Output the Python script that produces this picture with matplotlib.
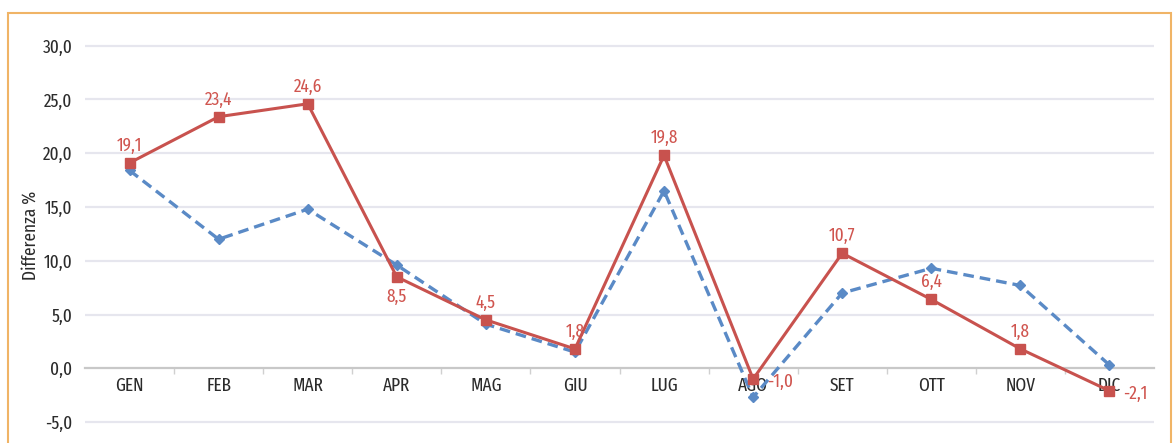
import numpy as np
import matplotlib.pyplot as plt
from matplotlib.patches import Rectangle

plt.rcParams["font.family"] = ["Fira Sans Extra Condensed", "DejaVu Sans"]

months = ["GEN", "FEB", "MAR", "APR", "MAG", "GIU",
          "LUG", "AGO", "SET", "OTT", "NOV", "DIC"]
serie_blu = [18.4, 12.0, 14.8, 9.6, 4.1, 1.5, 16.5, -2.7, 7.0, 9.3, 7.7, 0.3]
serie_rossa = [19.1, 23.4, 24.6, 8.5, 4.5, 1.8, 19.8, -1.0, 10.7, 6.4, 1.8, -2.1]
y_ticks = [-5, 0, 5, 10, 15, 20, 25, 30]

RED = "#c8524e"
RED_TXT = "#d0554f"
BLUE = "#5a8ac6"
GRID = "#e6e6ee"
TEXT = "#2b2b2b"
BORDER = "#f0b466"
FS = 13.5

fig = plt.figure(figsize=(11.73, 4.43), dpi=100)
ax = fig.add_axes([85 / 1173, 0.011, (1154 - 85) / 1173, 0.91])

x = np.arange(len(months))

for v in y_ticks:
    if v != 0:
        ax.axhline(v, color=GRID, linewidth=1.6, zorder=0)

ax.plot(x, serie_blu, color=BLUE, linewidth=2.4, linestyle=(0, (3.2, 1.8)),
        marker="D", markersize=5, markerfacecolor=BLUE,
        markeredgecolor=BLUE, zorder=3)
ax.plot(x, serie_rossa, color=RED, linewidth=2.2, marker="s",
        markersize=7.5, markerfacecolor=RED, markeredgecolor=RED, zorder=4)

# value labels: most above the point, a few below or to the right
for i, v in enumerate(serie_rossa):
    label = f"{v:.1f}".replace(".", ",")
    if months[i] == "APR":
        ax.annotate(label, (i, v), xytext=(0, -8), textcoords="offset points",
                    ha="center", va="top", color=RED_TXT, fontsize=FS)
    elif months[i] in ("AGO", "DIC"):
        ax.annotate(label, (i, v), xytext=(10, -2), textcoords="offset points",
                    ha="left", va="center", color=RED_TXT, fontsize=FS)
    else:
        ax.annotate(label, (i, v), xytext=(0, 6), textcoords="offset points",
                    ha="center", va="bottom", color=RED_TXT, fontsize=FS)

ax.set_xlim(-0.5, len(months) - 0.5)
ax.set_ylim(-6.5, 31)

ax.spines["bottom"].set_position(("data", 0))
ax.spines["bottom"].set_color("#c8c8c8")
ax.spines["bottom"].set_linewidth(1.6)
for side in ("top", "right", "left"):
    ax.spines[side].set_visible(False)

ax.set_xticks(x)
ax.set_xticklabels(months)
ax.set_xticks(np.arange(0.5, len(months) - 0.5), minor=True)
ax.tick_params(axis="x", which="major", length=0, pad=6,
               labelsize=FS, labelcolor=TEXT)
ax.tick_params(axis="x", which="minor", length=4, width=1,
               color="#d0d0d0", direction="out")

ax.set_yticks(y_ticks)
ax.set_yticklabels([f"{v:.1f}".replace(".", ",") for v in y_ticks])
ax.tick_params(axis="y", length=0, pad=9, labelsize=FS, labelcolor=TEXT)

fig.text(30 / 1173, 1 - 235 / 443, "Differenza %", rotation=90,
         ha="center", va="center", fontsize=FS, color=TEXT)

fig.patches.append(Rectangle((8 / 1173, -0.1), (1171 - 8) / 1173,
                             1.1 - 13 / 443, transform=fig.transFigure,
                             fill=False, edgecolor=BORDER, linewidth=1.5))

plt.savefig("out.png", dpi=100, facecolor="white")
plt.close()
